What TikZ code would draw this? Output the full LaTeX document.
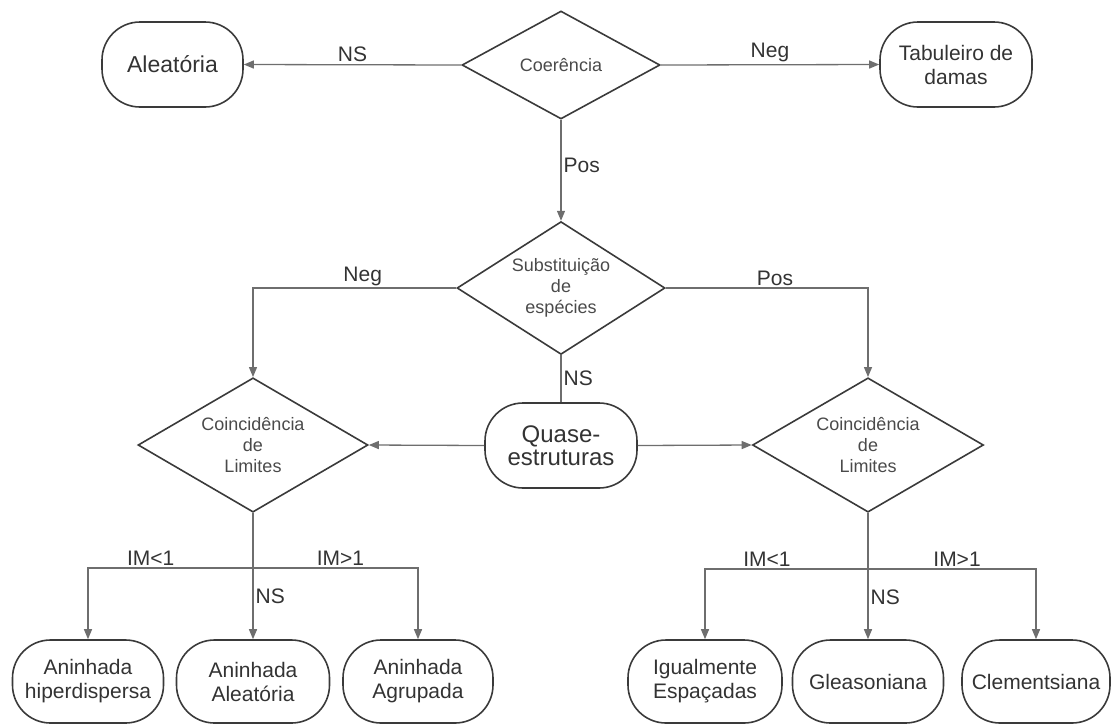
\documentclass[tikz,border=0pt]{standalone}
\usepackage{fontspec}
\setmainfont{Liberation Sans}
\usetikzlibrary{shapes.geometric,arrows.meta}
\definecolor{lineC}{HTML}{6E6E6E}
\definecolor{borderC}{HTML}{3A3A3A}
\definecolor{textC}{HTML}{333333}
\definecolor{dtextC}{HTML}{4A4A4A}
\begin{document}
\begin{tikzpicture}[x=1pt,y=-1pt,
  term/.style={draw=borderC, line width=1.6pt, rounded corners=38pt, minimum height=85pt,
    align=center, text=textC, font=\fontsize{21}{24}\selectfont, inner sep=0pt},
  decide/.style={draw=borderC, line width=1.6pt, diamond, inner sep=-6pt, align=center,
    text=dtextC, font=\fontsize{18}{21}\selectfont},
  conn/.style={draw=lineC, line width=1.3pt},
  arr/.style={conn, -{Triangle[length=10pt,width=8pt]}},
  lab/.style={text=textC, font=\fontsize{21}{24}\selectfont, inner sep=2pt}
]
\useasboundingbox (0,0) rectangle (1111,724);
% top row
\node[decide, minimum width=198pt, minimum height=108pt] (coer) at (561,65) {Coerência};
\node[term, minimum width=141pt, font=\fontsize{23}{26}\selectfont] (aleat) at (172.5,64.5) {Aleatória};
\node[term, minimum width=152pt] (tab) at (956,64.5) {Tabuleiro de\\damas};
% second
\node[decide, minimum width=208pt, minimum height=115pt] (subs) at (561,288) {Substituição\\de\\espécies};
% third
\node[term, minimum width=152pt, font=\fontsize{24}{23}\selectfont] (quase) at (561,445.5) {Quase-\\estruturas};
\node[decide, minimum width=230pt, minimum height=126pt] (cL) at (253,445) {Coincidência\\de\\Limites};
\node[decide, minimum width=231pt, minimum height=126pt] (cR) at (868,445) {Coincidência\\de\\Limites};
% bottom row
\node[term, minimum width=151pt, minimum height=83pt] (b1) at (88,681.5) {Aninhada\\hiperdispersa};
\node[term, minimum width=153pt, minimum height=83pt] (b2) at (253,681.5) {Aninhada\\Aleatória};
\node[term, minimum width=150pt, minimum height=83pt] (b3) at (418,681.5) {Aninhada\\Agrupada};
\node[term, minimum width=154pt, minimum height=83pt] (b4) at (705,681.5) {Igualmente\\Espaçadas};
\node[term, minimum width=151pt, minimum height=83pt] (b5) at (868,681.5) {Gleasoniana};
\node[term, minimum width=148pt, minimum height=83pt] (b6) at (1036,681.5) {Clementsiana};
% junction coordinates
\coordinate (jL) at (253,568);
\coordinate (jR) at (868,569);
% connectors
\draw[arr] (coer.west) -- node[lab, above] {NS} (aleat.east);
\draw[arr] (coer.east) -- node[lab, above] {Neg} (tab.west);
\draw[arr] (coer.south) -- node[lab, right, pos=0.45] {Pos} (subs.north);
\draw[arr] (subs.west) -| node[lab, above, pos=0.23] {Neg} (cL.north);
\draw[arr] (subs.east) -| node[lab, above, pos=0.27] {Pos} (cR.north);
\draw[conn] (subs.south) -- node[lab, right] {NS} (quase.north);
\draw[arr] (quase.west) -- (cL.east);
\draw[arr] (quase.east) -- (cR.west);
% left branches
\draw[arr] (cL.south) -- (jL) -- node[lab, right, pos=0.4] {NS} (b2.north);
\draw[arr] (jL) -| node[lab, above, pos=0.31] {IM<1} (b1.north);
\draw[arr] (jL) -| node[lab, above, pos=0.265] {IM>1} (b3.north);
% right branches
\draw[arr] (cR.south) -- (jR) -- node[lab, right, pos=0.4] {NS} (b5.north);
\draw[arr] (jR) -| node[lab, above, pos=0.31] {IM<1} (b4.north);
\draw[arr] (jR) -| node[lab, above, pos=0.265] {IM>1} (b6.north);
\end{tikzpicture}
\end{document}
